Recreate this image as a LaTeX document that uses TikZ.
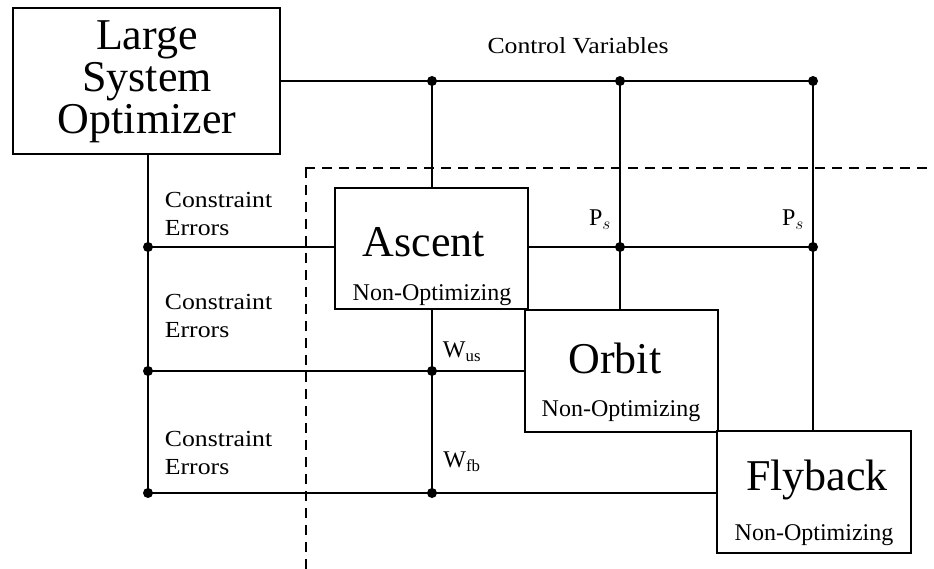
\documentclass[tikz,border=0pt]{standalone}
\usepackage{fontspec}
\setmainfont{Liberation Serif}
\newfontfamily\widefont[FakeStretch=1.12]{Liberation Serif}
\begin{document}
\begin{tikzpicture}[x=1pt,y=-1pt,line width=1.8pt,
  box/.style={draw,line width=1.8pt,inner sep=0pt,fill=white},
  title/.style={font=\fontsize{44}{42}\selectfont,inner sep=0pt,align=center},
  sub/.style={font=\fontsize{24}{26}\selectfont,inner sep=0pt},
  small/.style={font=\widefont\fontsize{23}{28}\selectfont,inner sep=0pt,align=left},
  dot/.style={circle,fill=black,inner sep=0pt,minimum size=10pt},
  bound/.style={dash pattern=on 10pt off 7pt,line width=1.6pt}]
\useasboundingbox (0,0) rectangle (934,569);

% boundary of the non-optimizing subsystems
\draw[bound] (305,168) -- (945,168);
\draw[bound] (306,168) -- (306,575);

% the optimizer and the three subsystems
\node[box,minimum width=267pt,minimum height=146pt] (lso) at (146.5,81) {};
\node[title] (lsot) at (147,82) {Large\\System\\Optimizer};

\node[box,minimum width=193pt,minimum height=121pt] (asc) at (431.5,248.5) {};
\node[title] (asct) at (424,242) {Ascent};
\node[sub] (ascs) at (432,295) {Non-Optimizing};

\node[box,minimum width=193pt,minimum height=122pt] (orb) at (621.5,371) {};
\node[title] (orbt) at (615,358) {Orbit};
\node[sub] (orbs) at (621,411) {Non-Optimizing};

\node[box,minimum width=194pt,minimum height=122pt] (fly) at (814,492) {};
\node[title] (flyt) at (817,480) {Flyback};
\node[sub] (flys) at (814,535) {Non-Optimizing};

% junction points
\coordinate (c1) at (432,81);
\coordinate (c2) at (620,81);
\coordinate (c3) at (813,81);
\coordinate (p1) at (620,247);
\coordinate (p2) at (813,247);
\coordinate (e0) at (148,154);
\coordinate (e1) at (148,247);
\coordinate (e2) at (148,371);
\coordinate (e3) at (148,493);
\coordinate (w1) at (432,371);
\coordinate (w2) at (432,493);

% control variables
\draw (lso.east |- c1) -- (c3);
\draw (c1) -- (c1 |- asc.north);
\draw (c2) -- (c2 |- orb.north);
\draw (c3) -- (c3 |- fly.north);
\draw (asc.east |- p1) -- (p2);

% constraint errors
\draw (e0) -- (e3);
\draw (e1) -- (e1 -| asc.west);
\draw (e2) -- (e2 -| orb.west);
\draw (e3) -- (e3 -| fly.west);
\draw (w1 |- asc.south) -- (w2);

\foreach \p in {c1,c2,c3,p1,p2,e1,e2,e3,w1,w2}
  \node[dot] at (\p) {};

% labels
\node[small] (cv) at (578,46) {Control Variables};
\node[small,anchor=west] (ce1) at (164,214) {Constraint\\Errors};
\node[small,anchor=west] (ce2) at (164,316) {Constraint\\Errors};
\node[small,anchor=west] (ce3) at (164,453) {Constraint\\Errors};
\node[sub] (ps1) at (600,220) {P$_s$};
\node[sub] (ps2) at (793,220) {P$_s$};
\node[sub] (wus) at (462,352) {W\textsubscript{us}};
\node[sub] (wfb) at (462,462) {W\textsubscript{fb}};
\end{tikzpicture}
\end{document}
